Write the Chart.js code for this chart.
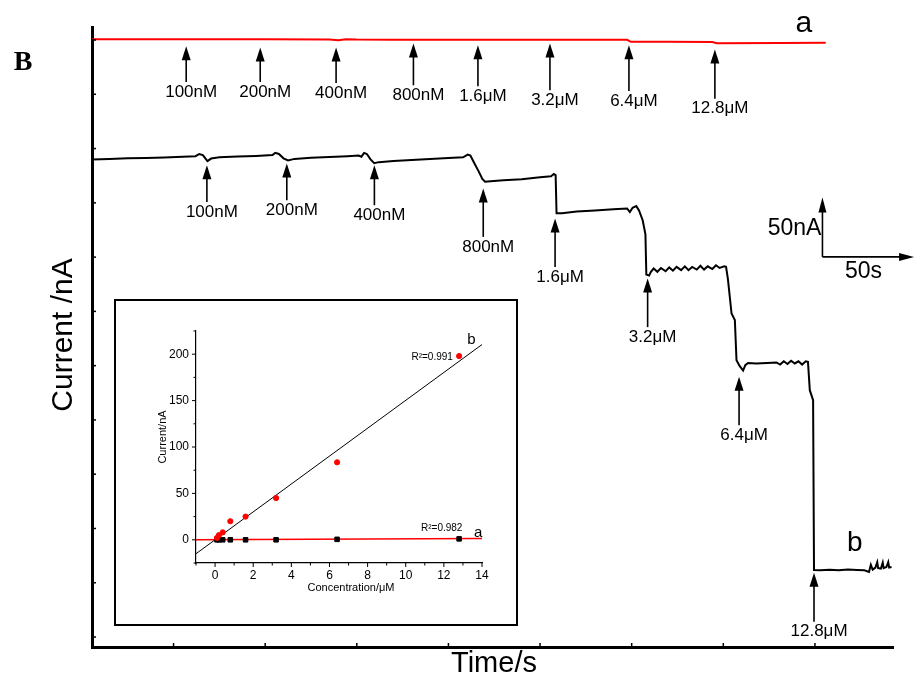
<!DOCTYPE html>
<html>
<head>
<meta charset="utf-8">
<script src="https://cdn.jsdelivr.net/npm/chart.js@4.4.1/dist/chart.umd.min.js"></script>
<style>
  html, body { margin: 0; padding: 0; background: #fff; }
  #wrap { position: relative; width: 915px; height: 688px; }
  #mainChart { position: absolute; left: 0; top: 0; }
  #insetChart { position: absolute; left: 114px; top: 299px; background: #fff; }
</style>
</head>
<body>
<div id="wrap">
  <canvas id="mainChart" width="915" height="688"></canvas>
  <canvas id="insetChart" width="404" height="327"></canvas>
</div>
<script>
// main amperometric traces: time (s) and current (nA)
const redTime = [5.5, 100, 135, 140, 144, 150, 170, 200, 240, 297.5, 299.5, 320, 344, 346.5, 380, 405.9];
const redCurrent = [550.8, 550.6, 550.5, 549.8, 550.7, 550.4, 550.3, 550.2, 550.3, 550.2, 548.3, 548.3, 548.2, 547.1, 547.2, 547.5];

const blackTime = [
  5.5, 15, 25, 35, 45, 55, 62, 64, 66, 68.5, 70.5, 75, 85, 95, 104, 105.5, 107.5, 110, 112.5, 116,
  125, 135, 145, 151, 152.5, 154, 155.5, 157.5, 159.5, 162, 170, 180, 190, 200, 208, 210.5, 212, 214, 216.5, 218.5,
  220, 223, 230, 240, 250, 256, 257.5, 258.5, 259, 262, 270, 280, 290, 297.5, 299, 300.5, 302.5, 304, 306, 307.5,
  308, 309.5,
  310.5, 312, 314, 316, 318.5, 320.5, 322.5, 324.5, 327, 329, 331, 333, 335.5, 337.5, 339.5, 341.5, 344, 346, 348, 350.5,
  351.5, 352.5, 354.5, 356.3, 357.2, 358.8, 360.8, 362, 363.5, 368, 374, 379, 381, 383, 385, 387, 389, 391, 393, 395,
  396.2, 397.2, 399, 399.5,
  403, 408, 413, 418, 423, 427, 429.5, 430.5, 431.5, 433, 434, 434.5, 436, 437, 437.5, 439, 440, 440.5, 441.8
];
const blackCurrent = [
  439.9, 440.5, 441.0, 441.3, 441.8, 442.5, 443.0, 445.0, 444.0, 438.5, 440.8, 442.0, 442.6, 443.2, 444.0, 446.0, 445.0, 441.0, 439.0, 440.5,
  441.5, 442.2, 443.0, 443.5, 442.5, 446.0, 445.0, 440.0, 436.5, 437.5, 438.5, 439.5, 440.3, 441.2, 442.0, 444.5, 443.5, 437.0, 429.0, 422.0,
  419.5, 420.0, 420.8, 421.8, 423.5, 424.5, 426.5, 425.5, 390.5, 390.5, 392.0, 393.0, 394.0, 394.8, 391.5, 395.5, 397.0, 393.0, 384.0, 371.0,
  334.0, 333.0,
  336.5, 339.5, 336.5, 340.0, 337.0, 340.5, 337.5, 341.0, 338.0, 341.5, 338.0, 341.0, 338.5, 342.0, 338.5, 341.5, 339.0, 342.5, 340.0, 341.5,
  341.0, 330.0, 298.0, 292.0, 255.0, 250.0, 245.5, 250.5, 252.5, 252.0, 252.5, 253.0, 251.0, 254.0, 251.5, 254.5, 252.0, 254.0, 251.0, 254.0,
  253.5, 227.4, 218.2, 61.7,
  61.5, 62.0, 61.5, 62.3, 61.8, 61.5, 60.0, 66.5, 62.0, 64.0, 69.0, 63.5, 63.0, 68.5, 63.5, 64.5, 69.0, 64.0, 64.5
];

// injections marked with arrows
const doseLabels = ["100nM", "200nM", "400nM", "800nM", "1.6μM", "3.2μM", "6.4μM", "12.8μM"];
const redArrowTime = [56.9, 97.3, 138.7, 180.9, 216.1, 255.4, 298.5, 345.4];
const redArrowTip = [544.2, 543.0, 543.0, 546.7, 545.1, 546.7, 545.1, 541.2];
const redArrowTail = [511.3, 511.3, 510.4, 508.3, 507.4, 503.7, 503.0, 496.0];
const blackArrowTime = [68.2, 111.8, 159.6, 219.0, 258.2, 308.7, 358.6, 399.5];
const blackArrowTip = [434.6, 436.2, 434.6, 413.2, 385.5, 330.3, 239.7, 59.2];
const blackArrowTail = [400.8, 402.4, 397.8, 368.6, 341.0, 285.5, 195.2, 14.1];

const mainTimeTicks = [50, 100, 150, 200, 250, 300, 350, 400];
const mainCurrentTicks = [0, 50, 100, 150, 200, 250, 300, 350, 400, 450, 500, 550];

// inset calibration plot
const concentration = [0.1, 0.2, 0.4, 0.8, 1.6, 3.2, 6.4, 12.8];
const responseB = [2, 5, 8, 20, 25, 45, 83.5, 198];
const responseA = [0, 0, 0, 0, 0, 0, 0.5, 1];
const fitConc = [-1, 14];
const fitB = [-15, 210.4];
const fitA = [0, 1.4];
const insetXTicks = [0, 2, 4, 6, 8, 10, 12, 14];
const insetXMinor = [-1, 1, 3, 5, 7, 9, 11, 13];
const insetYTicks = [0, 50, 100, 150, 200];
const insetYMinor = [-25, 25, 75, 125, 175, 225];

const fontFamily = '"Liberation Sans", Arial, sans-serif';

function toPoints(xs, ys) {
  return xs.map((x, i) => ({ x, y: ys[i] }));
}

function strokeLine(ctx, x1, y1, x2, y2) {
  ctx.beginPath();
  ctx.moveTo(x1, y1);
  ctx.lineTo(x2, y2);
  ctx.stroke();
}

function drawUpArrow(ctx, x, yTip, yTail) {
  const headLen = 14;
  const headW = 9;
  strokeLine(ctx, x, yTail, x, yTip + headLen - 1);
  ctx.beginPath();
  ctx.moveTo(x, yTip);
  ctx.lineTo(x - headW / 2, yTip + headLen);
  ctx.lineTo(x + headW / 2, yTip + headLen);
  ctx.closePath();
  ctx.fill();
}

const mainDecor = {
  id: "mainDecor",
  afterDraw(chart) {
    const { ctx, chartArea } = chart;
    const x = chart.scales.x;
    const y = chart.scales.y;
    ctx.save();
    ctx.strokeStyle = "#000";
    ctx.fillStyle = "#000";
    ctx.lineWidth = 1.5;

    mainTimeTicks.forEach((t) => {
      const px = x.getPixelForValue(t);
      strokeLine(ctx, px, chartArea.bottom, px, chartArea.bottom - 4);
    });
    mainCurrentTicks.forEach((v) => {
      const py = y.getPixelForValue(v);
      strokeLine(ctx, chartArea.left, py, chartArea.left + 4, py);
    });

    ctx.lineWidth = 1.6;
    ctx.font = `17px ${fontFamily}`;
    ctx.textAlign = "center";
    ctx.textBaseline = "middle";
    doseLabels.forEach((label, i) => {
      let px = x.getPixelForValue(redArrowTime[i]);
      let tail = y.getPixelForValue(redArrowTail[i]);
      drawUpArrow(ctx, px, y.getPixelForValue(redArrowTip[i]), tail);
      ctx.fillText(label, px + 5, tail + 10);

      px = x.getPixelForValue(blackArrowTime[i]);
      tail = y.getPixelForValue(blackArrowTail[i]);
      drawUpArrow(ctx, px, y.getPixelForValue(blackArrowTip[i]), tail);
      ctx.fillText(label, px + 5, tail + 10);
    });

    // scale bar: 50 nA by 50 s
    const cx = x.getPixelForValue(404.1);
    const cy = y.getPixelForValue(350.2);
    const top = y.getPixelForValue(400.2) - 5;
    const right = x.getPixelForValue(454.1);
    strokeLine(ctx, cx, cy, cx, top + 14);
    strokeLine(ctx, cx, cy, right - 14, cy);
    ctx.beginPath();
    ctx.moveTo(cx, top);
    ctx.lineTo(cx - 4, top + 15);
    ctx.lineTo(cx + 4, top + 15);
    ctx.closePath();
    ctx.fill();
    ctx.beginPath();
    ctx.moveTo(right, cy);
    ctx.lineTo(right - 15, cy - 4);
    ctx.lineTo(right - 15, cy + 4);
    ctx.closePath();
    ctx.fill();

    ctx.textBaseline = "alphabetic";
    ctx.font = `23px ${fontFamily}`;
    ctx.textAlign = "right";
    ctx.fillText("50nA", cx - 1, cy - 22);
    ctx.textAlign = "center";
    ctx.fillText("50s", cx + 41, cy + 21);

    ctx.font = `30px ${fontFamily}`;
    ctx.fillText("a", x.getPixelForValue(393.9), y.getPixelForValue(557));
    ctx.font = `28px ${fontFamily}`;
    ctx.fillText("b", x.getPixelForValue(421.7), y.getPixelForValue(79.2));

    ctx.textBaseline = "middle";
    ctx.font = `29px ${fontFamily}`;
    ctx.fillText("Time/s", 494, 664);
    ctx.save();
    ctx.translate(64, 335);
    ctx.rotate(-Math.PI / 2);
    ctx.font = `30px ${fontFamily}`;
    ctx.fillText("Current /nA", 0, 0);
    ctx.restore();

    ctx.font = 'bold 28px "Liberation Serif", "Times New Roman", serif';
    ctx.fillText("B", 23, 63);
    ctx.restore();
  },
};

const insetDecor = {
  id: "insetDecor",
  afterDraw(chart) {
    const { ctx, chartArea } = chart;
    const x = chart.scales.x;
    const y = chart.scales.y;
    ctx.save();
    ctx.strokeStyle = "#000";
    ctx.fillStyle = "#000";
    ctx.lineWidth = 2;
    ctx.strokeRect(1, 1, chart.width - 2, chart.height - 2);

    ctx.lineWidth = 1;
    insetXTicks.forEach((v) => {
      const px = x.getPixelForValue(v);
      strokeLine(ctx, px, chartArea.bottom, px, chartArea.bottom + 4);
    });
    insetXMinor.forEach((v) => {
      const px = x.getPixelForValue(v);
      strokeLine(ctx, px, chartArea.bottom, px, chartArea.bottom + 2.5);
    });
    insetYTicks.forEach((v) => {
      const py = y.getPixelForValue(v);
      strokeLine(ctx, chartArea.left, py, chartArea.left - 4, py);
    });
    insetYMinor.forEach((v) => {
      const py = y.getPixelForValue(v);
      strokeLine(ctx, chartArea.left, py, chartArea.left - 2.5, py);
    });

    ctx.font = `11px ${fontFamily}`;
    ctx.textAlign = "center";
    ctx.textBaseline = "middle";
    ctx.fillText("Concentration/μM", 237, 289);
    ctx.save();
    ctx.translate(49, 138);
    ctx.rotate(-Math.PI / 2);
    ctx.fillText("Current/nA", 0, 0);
    ctx.restore();

    ctx.textBaseline = "alphabetic";
    ctx.font = `15px ${fontFamily}`;
    ctx.fillText("b", x.getPixelForValue(13.45), y.getPixelForValue(211));
    ctx.fillText("a", x.getPixelForValue(13.8), y.getPixelForValue(3.5));
    ctx.font = `10px ${fontFamily}`;
    ctx.textAlign = "left";
    ctx.fillText("R²=0.991", x.getPixelForValue(10.3), y.getPixelForValue(193.5));
    ctx.fillText("R²=0.982", x.getPixelForValue(10.8), y.getPixelForValue(10));
    ctx.restore();
  },
};

new Chart(document.getElementById("mainChart"), {
  type: "line",
  data: {
    datasets: [
      {
        label: "a",
        data: toPoints(redTime, redCurrent),
        borderColor: "#ff0000",
        borderWidth: 2,
        pointRadius: 0,
        tension: 0,
      },
      {
        label: "b",
        data: toPoints(blackTime, blackCurrent),
        borderColor: "#000000",
        borderWidth: 2,
        pointRadius: 0,
        tension: 0,
      },
    ],
  },
  options: {
    responsive: false,
    animation: false,
    layout: { padding: { top: 27, right: 22, left: 0, bottom: 0 } },
    plugins: {
      legend: { display: false },
      tooltip: { enabled: false },
    },
    scales: {
      x: {
        type: "linear",
        min: 5.5,
        max: 442.6,
        ticks: { display: false },
        grid: { drawOnChartArea: false, drawTicks: false },
        border: { color: "#000", width: 3 },
        afterFit: (scale) => { scale.height = 41; },
      },
      y: {
        type: "linear",
        min: -9.2,
        max: 562,
        ticks: { display: false },
        grid: { drawOnChartArea: false, drawTicks: false },
        border: { color: "#000", width: 3 },
        afterFit: (scale) => { scale.width = 92; },
      },
    },
  },
  plugins: [mainDecor],
});

new Chart(document.getElementById("insetChart"), {
  type: "scatter",
  data: {
    datasets: [
      {
        label: "b points",
        data: toPoints(concentration, responseB),
        backgroundColor: "#ff0000",
        borderColor: "#ff0000",
        pointRadius: 2.6,
        pointStyle: "circle",
      },
      {
        label: "a points",
        data: toPoints(concentration, responseA),
        backgroundColor: "#000000",
        borderColor: "#000000",
        pointRadius: 3.2,
        pointStyle: "rect",
      },
      {
        label: "b fit",
        data: toPoints(fitConc, fitB),
        showLine: true,
        borderColor: "#000000",
        borderWidth: 1,
        pointRadius: 0,
      },
      {
        label: "a fit",
        data: toPoints(fitConc, fitA),
        showLine: true,
        borderColor: "#ff0000",
        borderWidth: 1.5,
        pointRadius: 0,
      },
    ],
  },
  options: {
    responsive: false,
    animation: false,
    layout: { padding: { top: 32, right: 36, left: 0, bottom: 0 } },
    plugins: {
      legend: { display: false },
      tooltip: { enabled: false },
    },
    scales: {
      x: {
        type: "linear",
        min: -1,
        max: 14,
        afterBuildTicks: (scale) => { scale.ticks = insetXTicks.map((value) => ({ value })); },
        ticks: { color: "#000", padding: 5, font: { size: 12, family: fontFamily } },
        grid: { drawOnChartArea: false, drawTicks: false },
        border: { color: "#000", width: 1.2 },
        afterFit: (scale) => { scale.height = 63; },
      },
      y: {
        type: "linear",
        min: -25,
        max: 225,
        afterBuildTicks: (scale) => { scale.ticks = insetYTicks.map((value) => ({ value })); },
        ticks: { color: "#000", padding: 7, font: { size: 12, family: fontFamily } },
        grid: { drawOnChartArea: false, drawTicks: false },
        border: { color: "#000", width: 1.2 },
        afterFit: (scale) => { scale.width = 82; },
      },
    },
  },
  plugins: [insetDecor],
});
</script>
</body>
</html>
